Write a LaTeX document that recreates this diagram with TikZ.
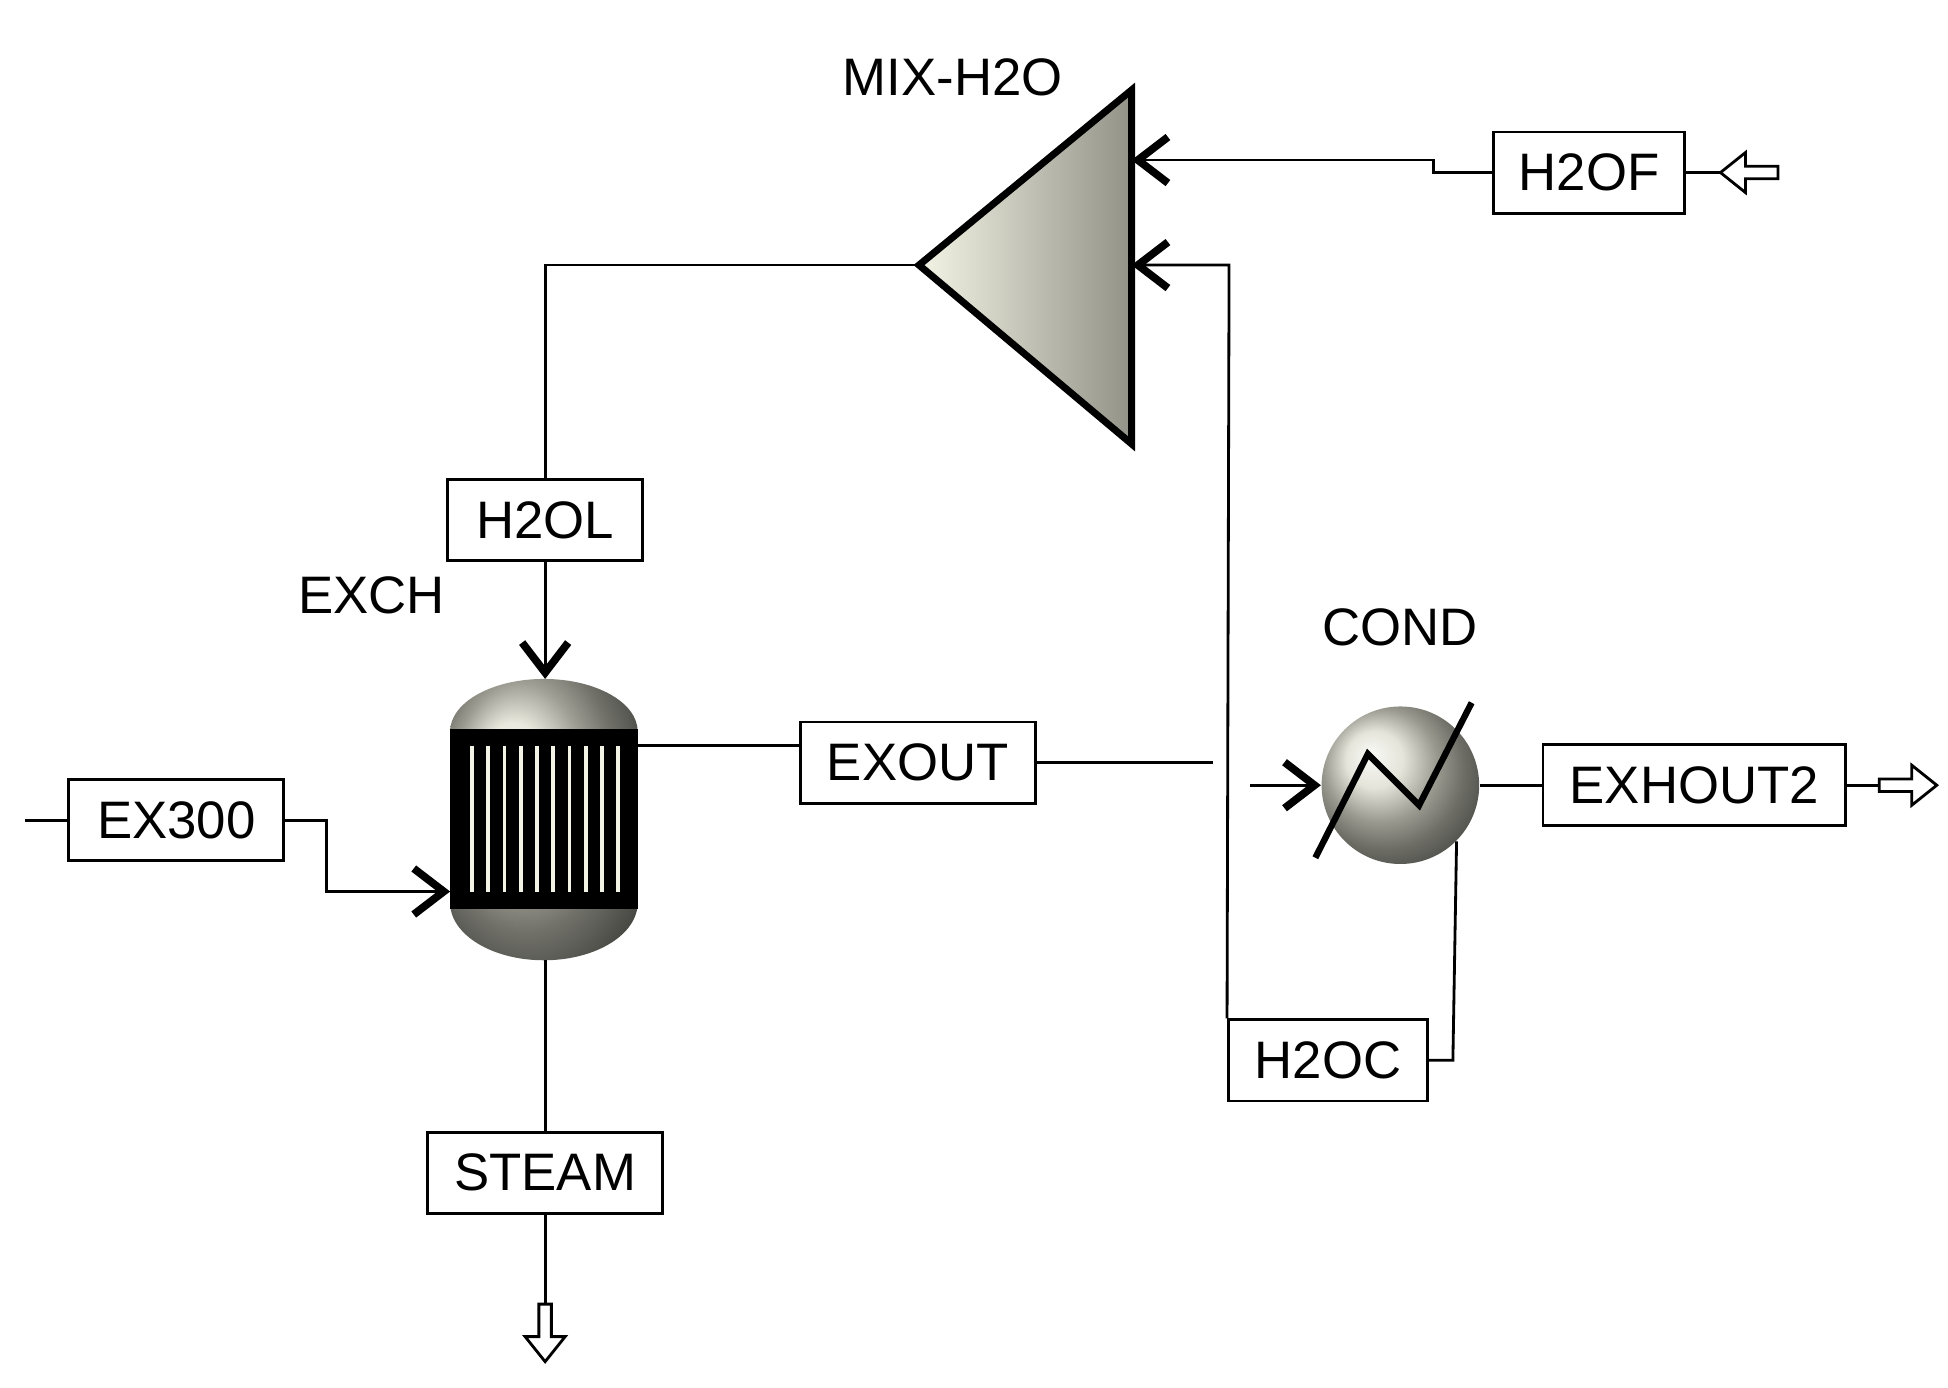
\documentclass[tikz,border=0pt]{standalone}
\usepackage{fontspec}
\setmainfont{Liberation Sans}
\usetikzlibrary{arrows.meta, positioning, calc}
\definecolor{eqlight}{HTML}{F4F4E6}
\definecolor{eqdark}{HTML}{77776A}
\tikzset{
    strm/.style={draw, line width=0.8pt, fill=white, inner sep=0pt, font=\fontsize{15}{18}\selectfont},
    lbl/.style={font=\fontsize{15}{18}\selectfont, inner sep=0pt},
    flow/.style={line width=0.8pt, -{Straight Barb[length=3mm, width=4.6mm, line width=2.2pt]}},
    pipe/.style={line width=0.8pt},
    hollow/.pic={
    \draw[line width=0.8pt, fill=white] (0,-5) -- (26,-5) -- (26,-16) -- (46,0) -- (26,16) -- (26,5) -- (0,5) -- cycle;
    },
}

\begin{document}
\begin{tikzpicture}[x=0.0125cm, y=-0.0125cm]
    \useasboundingbox (0,0) rectangle (1558,1110);

    % mixer
    \coordinate (mixapex) at (735,212);
    \coordinate (mixtop) at (905,72);
    \coordinate (mixbot) at (905,355);
    \shade[left color=eqlight, right color=eqdark!80] (mixapex) -- (mixtop) -- (mixbot) -- cycle;
    \draw[line width=2pt, line join=miter] (mixapex) -- (mixtop) -- (mixbot) -- cycle;
    \node[lbl] (mixlbl) at (762,62) {MIX-H2O};

    % exchanger
    \shade[ball color=eqlight!85!eqdark] (360,596) -- (360,585) arc[start angle=180, end angle=360, x radius=75, y radius=42] -- (510,722) arc[start angle=0, end angle=180, x radius=75, y radius=46] -- cycle;
    \fill[black] (360,583) rectangle (510,727);
    \foreach \i in {0,...,9}
      \fill[eqlight] ({376+\i*13},597) rectangle ({379+\i*13},713);
    \node[inner sep=0pt, minimum width=150*0.0125cm, minimum height=225*0.0125cm] (exch) at (435,655) {};
    \node[lbl] (exchlbl) at (297,476) {EXCH};

    % condenser
    \shade[ball color=eqlight!80!eqdark] (1120,628) circle[radius=63];
    \node[circle, inner sep=0pt, minimum size=126*0.0125cm] (cond) at (1120,628) {};
    \draw[line width=1.8pt] (1052,686) -- (1094,603) -- (1135,644) -- (1177,562);
    \node[lbl] (condlbl) at (1120,502) {COND};

    % stream boxes
    \node[strm, minimum width=153*0.0125cm, minimum height=65*0.0125cm] (h2of) at (1271,138) {H2OF};
    \node[strm, minimum width=156*0.0125cm, minimum height=65*0.0125cm] (h2ol) at (436,416) {H2OL};
    \node[strm, minimum width=172*0.0125cm, minimum height=65*0.0125cm] (ex300) at (141,656) {EX300};
    \node[strm, minimum width=188*0.0125cm, minimum height=65*0.0125cm] (exout) at (734,610) {EXOUT};
    \node[strm, minimum width=242*0.0125cm, minimum height=65*0.0125cm] (exhout2) at (1355,628) {EXHOUT2};
    \node[strm, minimum width=159*0.0125cm, minimum height=65*0.0125cm] (h2oc) at (1062,848) {H2OC};
    \node[strm, minimum width=188*0.0125cm, minimum height=65*0.0125cm] (steam) at (436,938) {STEAM};

    % feed and product ends
    \coordinate (h2ofin) at (1422,138);
    \coordinate (ex300in) at (20,656);
    \coordinate (exhout) at (1503,628);
    \coordinate (steamout) at (436,1043);
    \path (h2ofin) pic[rotate=180] {hollow};
    \path (exhout) pic {hollow};
    \path (steamout) pic[rotate=-90] {hollow};

    % streams
    \draw[pipe] (h2of.east) -- ++(29,0);
    \draw[flow] (h2of.west) -- ++(-47,0) -- ++(0,-10) -- (mixtop |- 0,128);
    \draw[pipe] (mixapex) -| (h2ol.north);
    \draw[flow] (h2ol.south) -- (436,543);
    \draw[pipe] (ex300in) -- (ex300.west);
    \draw[flow] (ex300.east) -- ++(33,0) |- (360,713);
    \draw[pipe] (510,596) -- (exout.west |- 0,596);
    \draw[pipe] (exout.east) -- (970,610);
    \draw[flow] (1000,628) -- (cond.west);
    \draw[pipe] (cond.east) -- (exhout2.west);
    \draw[pipe] (exhout2.east) -- (exhout);
    \draw[pipe] (cond.-45) -- (1162,848) -- (h2oc.east);
    \draw[flow] (h2oc.north west) -- (983,212) -- (mixtop |- 0,212);
    \draw[pipe] (436,768) -- (steam.north);
    \draw[pipe] (steam.south) -- (steamout);
\end{tikzpicture}
\end{document}
